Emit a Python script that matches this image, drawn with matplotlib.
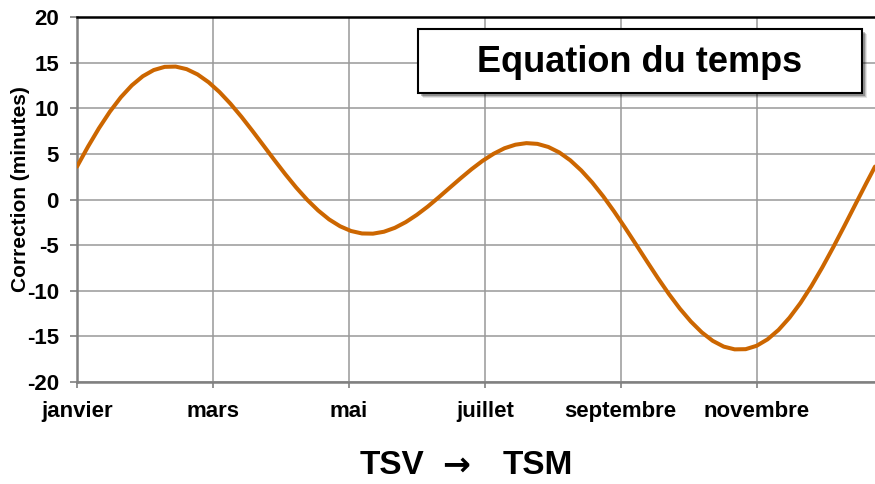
import matplotlib
matplotlib.use("Agg")
import matplotlib.pyplot as plt
from matplotlib.patches import Rectangle

plt.rcParams['font.family'] = ['Liberation Sans', 'DejaVu Sans']
plt.rcParams['font.weight'] = 'bold'
plt.rcParams['axes.unicode_minus'] = False

# day of year and correction (minutes)
days = [1, 6, 11, 16, 21, 26, 31, 36, 41, 46, 51, 56, 61, 66, 71, 76, 81, 86,
        91, 96, 101, 106, 111, 116, 121, 126, 131, 136, 141, 146, 151, 156,
        161, 166, 171, 176, 181, 186, 191, 196, 201, 206, 211, 216, 221, 226,
        231, 236, 241, 246, 251, 256, 261, 266, 271, 276, 281, 286, 291, 296,
        301, 306, 311, 316, 321, 326, 331, 336, 341, 346, 351, 356, 361, 365]
correction = [3.61, 5.79, 7.81, 9.63, 11.21, 12.51, 13.51, 14.19, 14.54, 14.57,
              14.29, 13.71, 12.86, 11.78, 10.50, 9.07, 7.53, 5.94, 4.34, 2.78,
              1.31, -0.03, -1.20, -2.18, -2.93, -3.45, -3.72, -3.74, -3.53,
              -3.10, -2.47, -1.68, -0.77, 0.24, 1.29, 2.33, 3.33, 4.24, 5.01,
              5.62, 6.01, 6.18, 6.10, 5.76, 5.16, 4.30, 3.19, 1.87, 0.36, -1.31,
              -3.09, -4.93, -6.79, -8.62, -10.36, -11.96, -13.37, -14.56,
              -15.49, -16.12, -16.42, -16.40, -16.03, -15.32, -14.29, -12.95,
              -11.34, -9.48, -7.42, -5.21, -2.91, -0.56, 1.78, 3.61]

month_ticks = [1, 63, 125, 187, 249, 311]
month_labels = ['janvier', 'mars', 'mai', 'juillet', 'septembre', 'novembre']
y_ticks = [-20, -15, -10, -5, 0, 5, 10, 15, 20]

fig = plt.figure(figsize=(8.75, 4.84), dpi=100)
ax = fig.add_axes([0.088, 0.2107, 0.912, 0.7541])

ax.plot(days, correction, color='#CC6600', linewidth=2.9,
        solid_capstyle='round', solid_joinstyle='round', zorder=3)

ax.set_xlim(1, 365)
ax.set_ylim(-20, 20)
ax.set_xticks(month_ticks)
ax.set_xticklabels(month_labels)
ax.set_yticks(y_ticks)
ax.grid(True, color='#999999', linewidth=1.1)
ax.set_axisbelow(True)

ax.tick_params(axis='both', labelsize=16, color='#808080', width=1.2)
ax.tick_params(axis='y', length=5, pad=8)
ax.tick_params(axis='x', length=4, pad=10)

for side in ['left', 'bottom']:
    ax.spines[side].set_color('#808080')
    ax.spines[side].set_linewidth(1.8)
ax.spines['top'].set_color('black')
ax.spines['top'].set_linewidth(1.8)
ax.spines['right'].set_visible(False)

fig.text(21 / 875, 1 - 189 / 484, 'Correction (minutes)', rotation=90,
         ha='center', va='center', fontsize=15, fontweight='bold')

# x axis caption: TSV -> TSM, the arrow drawn heavier
cap_y = 1 - 465 / 484
fig.text(392 / 875, cap_y, 'TSV', ha='center', va='center', fontsize=24, fontweight='bold')
fig.text(456 / 875, cap_y, '\u2192', ha='center', va='center', fontsize=24,
         fontweight='bold', family='DejaVu Sans')
fig.text(538 / 875, cap_y, 'TSM', ha='center', va='center', fontsize=24, fontweight='bold')

# title box with a soft shadow
x0, y0, w, h = 418 / 875, 1 - 93 / 484, 444 / 875, 64 / 484
for i, a in enumerate([0.10, 0.16, 0.25]):
    off = 5 - i
    ax.add_patch(Rectangle((x0 + off / 875, y0 - off / 484), w, h, transform=fig.transFigure,
                           facecolor='black', edgecolor='none', alpha=a,
                           clip_on=False, zorder=5))
ax.add_patch(Rectangle((x0, y0), w, h, transform=fig.transFigure, facecolor='white',
                       edgecolor='black', linewidth=1.5, clip_on=False, zorder=6))
fig.text(x0 + w / 2, y0 + h / 2 - 0.004, 'Equation du temps', ha='center', va='center',
         fontsize=26, fontweight='bold', zorder=7)

fig.savefig('out.png', dpi=100)
